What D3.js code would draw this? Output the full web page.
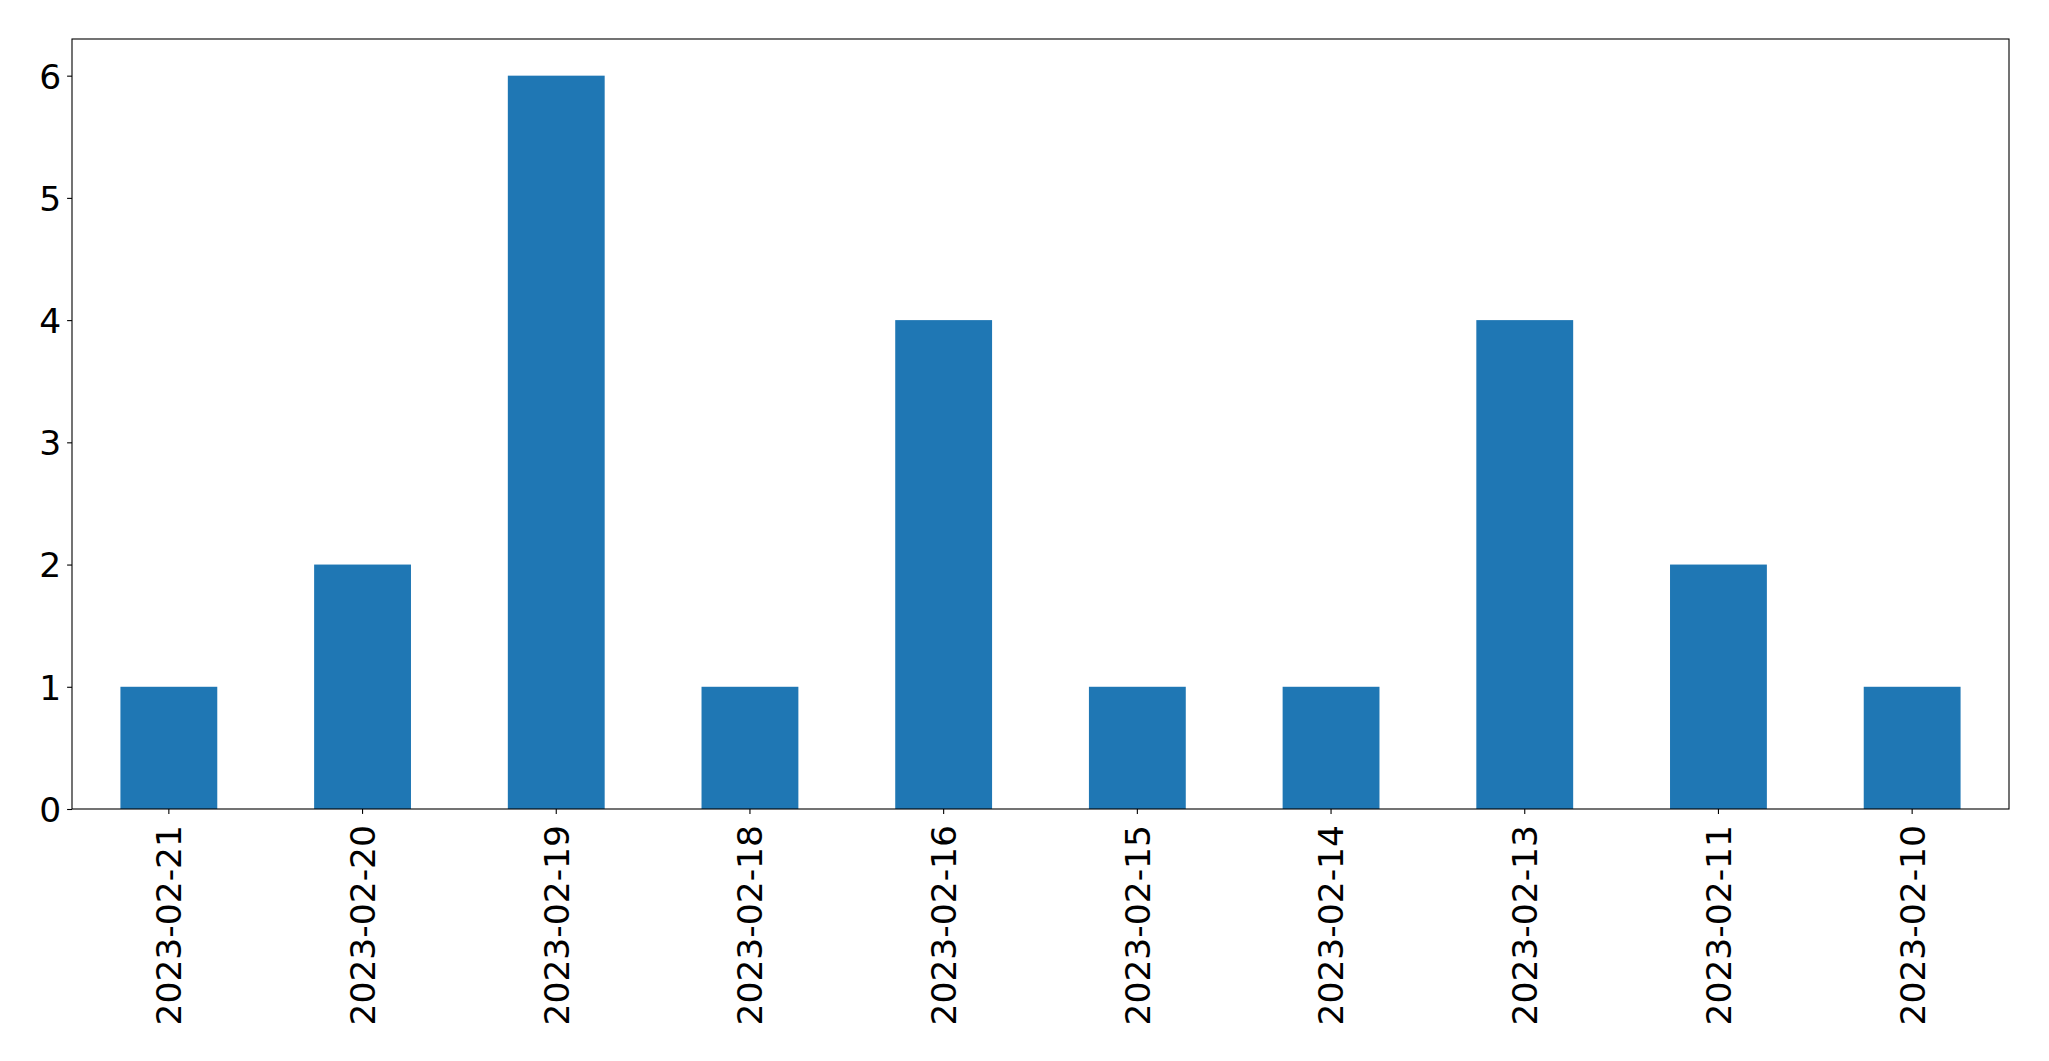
<!DOCTYPE html>
<html><head><meta charset="utf-8">
<script src="https://cdn.jsdelivr.net/npm/d3@7"></script>
<style>html,body{margin:0;padding:0;background:#fff;} svg{display:block;}</style>
</head><body>
<script>
const categories = ["2023-02-21","2023-02-20","2023-02-19","2023-02-18","2023-02-16","2023-02-15","2023-02-14","2023-02-13","2023-02-11","2023-02-10"];
const values = [1,2,6,1,4,1,1,4,2,1];
const yTicks = [0,1,2,3,4,5,6];

(function(){
const W = 2049, H = 1061;
const pL = 72, pR = 2009, pT = 39, pB = 809;
const svg = d3.select("body").append("svg").attr("width", W).attr("height", H);

const x = d3.scaleBand().domain(categories).range([pL, pR]).paddingInner(0.5).paddingOuter(0.25);
const y = d3.scaleLinear().domain([0, 6.3]).range([pB, pT]);

svg.append("g").selectAll("rect").data(values).join("rect")
  .attr("x", (d,i) => x(categories[i]))
  .attr("y", d => y(d))
  .attr("width", x.bandwidth())
  .attr("height", d => y(0) - y(d))
  .attr("fill", "#1f77b4");

const font = "DejaVu Sans, sans-serif";
const fs = 34.5;

const yAxis = svg.append("g").attr("transform", `translate(${pL},0)`)
  .call(d3.axisLeft(y).tickValues(yTicks).tickFormat(d3.format("d")).tickSizeInner(4.9).tickSizeOuter(0).tickPadding(6));
yAxis.select(".domain").remove();
yAxis.selectAll("line").attr("stroke", "#000").attr("stroke-width", 1.1);
yAxis.selectAll("text").attr("font-family", font).attr("font-size", fs).attr("fill", "#000").attr("dy", "0.36em");

const xAxis = svg.append("g").attr("transform", `translate(0,${pB})`)
  .call(d3.axisBottom(x).tickSizeInner(4.9).tickSizeOuter(0).tickPadding(4.9));
xAxis.select(".domain").remove();
xAxis.selectAll("line").attr("stroke", "#000").attr("stroke-width", 1.1);
xAxis.selectAll("text")
  .attr("font-family", font).attr("font-size", fs).attr("fill", "#000")
  .attr("text-anchor", "end")
  .attr("transform", "rotate(-90)")
  .attr("x", -16).attr("y", 0).attr("dy", "0.36em");

svg.append("rect").attr("x", pL).attr("y", pT).attr("width", pR-pL).attr("height", pB-pT)
  .attr("fill", "none").attr("stroke", "#000").attr("stroke-width", 1.1);
})();
</script>
</body></html>
